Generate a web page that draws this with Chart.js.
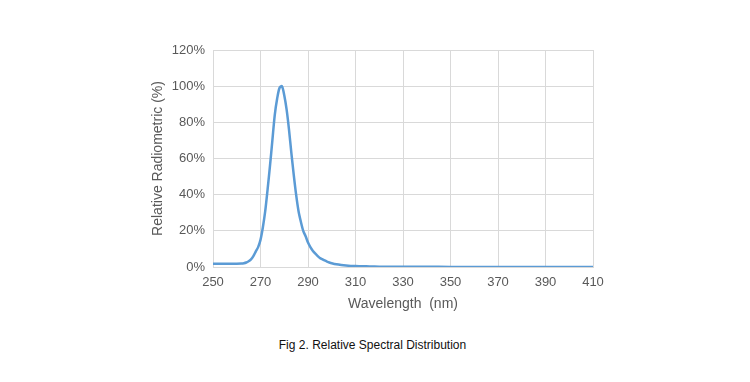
<!DOCTYPE html>
<html>
<head>
<meta charset="utf-8">
<script src="https://cdn.jsdelivr.net/npm/chart.js@4"></script>
<style>
  body { margin: 0; background: #fff; }
  #wrap { position: absolute; left: 0; top: 0; width: 750px; height: 320px; }
  #caption {
    position: absolute; left: 0; top: 338px; width: 745px; text-align: center;
    font-family: "Liberation Sans", Arial, sans-serif; font-size: 12px; color: #111;
  }
</style>
</head>
<body>
<div id="wrap"><canvas id="chart" width="750" height="320"></canvas></div>
<div id="caption">Fig 2. Relative Spectral Distribution</div>
<script>
// wavelength (nm) and relative radiometric value (%)
const wavelengths = [250, 252, 254, 256, 258, 260, 262, 263, 264, 265, 266, 267, 268, 269, 270,
  271, 272, 273, 274, 275, 276, 277, 278, 279, 280, 281, 282, 283, 284, 285, 286, 287, 288, 289,
  290, 291, 292, 293, 294, 295, 296, 297, 298, 299, 300, 302, 304, 306, 308, 310, 313, 316, 320,
  330, 340, 350, 360, 370, 380, 390, 400, 410];
const relative = [1.8, 1.8, 1.8, 1.8, 1.8, 1.8, 1.9, 2.1, 2.5, 3.2, 4.2, 6, 8.5, 11, 15,
  22, 31, 43, 56, 70, 84, 93, 99, 100, 95, 87, 76, 63, 51, 40, 31, 25, 20, 17,
  13.5, 11, 9, 7.5, 6.2, 5, 4.3, 3.6, 3, 2.5, 2.1, 1.5, 1.1, 0.8, 0.6, 0.5, 0.4, 0.3, 0.2,
  0.1, 0.1, 0.05, 0, 0, 0, 0, 0, 0];
const xTicks = [250, 270, 290, 310, 330, 350, 370, 390, 410];
const yTicks = [0, 20, 40, 60, 80, 100, 120];

const tickFont = { family: "'Liberation Sans', Arial, sans-serif", size: 13 };
const gridColor = "#d9d9d9";

new Chart(document.getElementById("chart"), {
  type: "line",
  data: {
    datasets: [{
      data: wavelengths.map((w, i) => ({ x: w, y: relative[i] })),
      borderColor: "#5b9bd5",
      borderWidth: 2.5,
      pointRadius: 0,
      tension: 0.3,
      fill: false
    }]
  },
  options: {
    responsive: false,
    animation: false,
    layout: { padding: { left: 146, right: 157, top: 50, bottom: 3 } },
    plugins: { legend: { display: false }, tooltip: { enabled: false } },
    scales: {
      x: {
        type: "linear",
        min: 250,
        max: 410,
        afterBuildTicks: s => { s.ticks = xTicks.map(v => ({ value: v })); },
        afterFit: s => { s.height = 50; },
        grid: { color: gridColor, drawTicks: false },
        border: { color: gridColor },
        ticks: { color: "#595959", font: tickFont, padding: 8, maxRotation: 0 },
        title: {
          display: true, text: "Wavelength  (nm)", color: "#595959",
          font: { family: "'Liberation Sans', Arial, sans-serif", size: 14 }, padding: { top: 1 }
        }
      },
      y: {
        min: 0,
        max: 120,
        afterBuildTicks: s => { s.ticks = yTicks.map(v => ({ value: v })); },
        afterFit: s => { s.width = 67; },
        grid: { color: gridColor, drawTicks: false },
        border: { color: gridColor },
        ticks: { color: "#595959", font: tickFont, padding: 8, callback: v => v + "%" },
        title: {
          display: true, text: "Relative Radiometric (%)", color: "#595959",
          font: { family: "'Liberation Sans', Arial, sans-serif", size: 14 }, padding: { bottom: 6 }
        }
      }
    }
  }
});
</script>
</body>
</html>
